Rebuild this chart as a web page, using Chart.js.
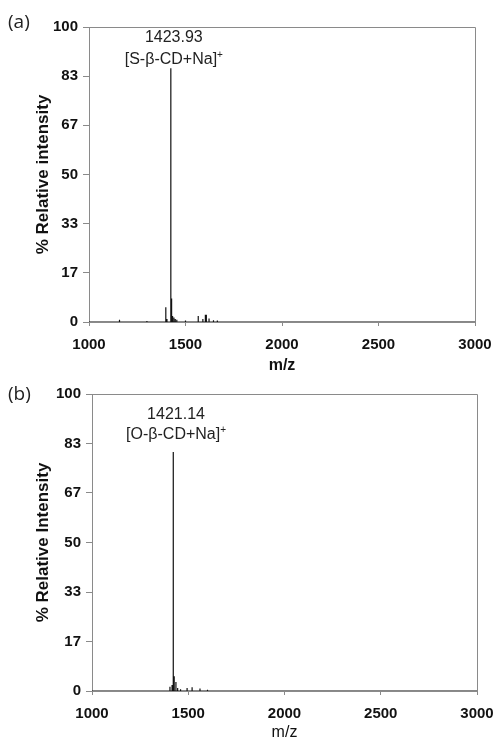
<!DOCTYPE html>
<html>
<head>
<meta charset="utf-8">
<script src="https://cdn.jsdelivr.net/npm/chart.js@4.4.1/dist/chart.umd.min.js"></script>
<style>
  body { margin: 0; background: #fff; width: 496px; height: 742px; position: relative; overflow: hidden; font-family: "Liberation Sans", Arial, sans-serif; }
  .wrap { position: absolute; left: 0; width: 496px; }
  .panel { position: absolute; left: 8px; font-size: 19px; color: #222; font-family: "Open Sans", "Liberation Sans", sans-serif; }
</style>
</head>
<body>
<div class="wrap" style="top:0;height:375px"><canvas id="chartA" width="496" height="375"></canvas></div>
<div class="wrap" style="top:372px;height:370px"><canvas id="chartB" width="496" height="370"></canvas></div>
<div class="panel" style="top:8px">(a)</div>
<div class="panel" style="top:380px">(b)</div>
<script>
// peak lists (m/z, % relative intensity)
var mzA = [1158, 1300, 1398, 1404, 1424, 1428, 1433, 1440, 1447, 1455, 1500, 1566, 1590, 1603, 1608, 1622, 1645, 1665];
var intA = [0.8, 0.3, 5, 1, 86, 8, 2, 1.5, 1, 0.8, 0.5, 2, 1, 2.5, 2.5, 1.2, 0.6, 0.5];
var mzB = [1405, 1416, 1421, 1423, 1427, 1436, 1445, 1460, 1494, 1520, 1561, 1600];
var intB = [1.4, 2, 80.5, 30, 5, 3, 1, 0.6, 1, 1.3, 0.8, 0.4];
var peakLabelA = ["1423.93", "[S-β-CD+Na]", "+"];
var peakLabelB = ["1421.14", "[O-β-CD+Na]", "+"];
var yTicks = [0, 17, 33, 50, 67, 83, 100];

function sticks(mz, inten) {
    var pts = [{x: 1000, y: 0}];
    for (var i = 0; i < mz.length; i++) {
        pts.push({x: mz[i], y: 0});
        pts.push({x: mz[i], y: inten[i]});
        pts.push({x: mz[i], y: 0});
    }
    pts.push({x: 3000, y: 0});
    return pts;
}

var grey = "#8a8a8a";

// box around the plot area + peak annotation
var frame = {
    id: "frame",
    afterDatasetsDraw: function (chart, args, opts) {
        var a = chart.chartArea, ctx = chart.ctx;
        ctx.save();
        ctx.strokeStyle = grey;
        ctx.lineWidth = 1;
        ctx.beginPath();
        ctx.moveTo(a.left, a.top + 0.5);
        ctx.lineTo(a.right + 0.5, a.top + 0.5);
        ctx.lineTo(a.right + 0.5, a.bottom);
        ctx.stroke();
        var x = chart.scales.x.getPixelForValue(opts.mz) + 3;
        ctx.fillStyle = "#222";
        ctx.font = "16px 'Liberation Sans', Arial, sans-serif";
        ctx.textAlign = "center";
        ctx.textBaseline = "middle";
        ctx.fillText(opts.text[0], x, opts.y1);
        var w1 = ctx.measureText(opts.text[1]).width;
        ctx.font = "10px 'Liberation Sans', Arial, sans-serif";
        var w2 = ctx.measureText(opts.text[2]).width;
        ctx.textAlign = "left";
        ctx.font = "16px 'Liberation Sans', Arial, sans-serif";
        var sx = x - (w1 + w2) / 2;
        ctx.fillText(opts.text[1], sx, opts.y2);
        ctx.font = "10px 'Liberation Sans', Arial, sans-serif";
        ctx.fillText(opts.text[2], sx + w1, opts.y2 - 5);
        ctx.restore();
    }
};

function makeChart(id, mz, inten, o) {
    return new Chart(document.getElementById(id), {
        type: "scatter",
        data: {
            datasets: [{
                data: sticks(mz, inten),
                showLine: true,
                borderColor: "#111",
                borderWidth: 1.2,
                pointRadius: 0,
                tension: 0
            }]
        },
        options: {
            responsive: false,
            animation: false,
            layout: { padding: { top: o.top, right: o.right, left: 0, bottom: 0 } },
            plugins: {
                legend: { display: false },
                tooltip: { enabled: false },
                frame: { mz: o.peak, text: o.text, y1: o.y1, y2: o.y2 }
            },
            scales: {
                x: {
                    type: "linear",
                    min: 1000,
                    max: 3000,
                    afterFit: function (s) { s.height = o.xh; s.paddingLeft = 0; s.paddingRight = 0; },
                    ticks: {
                        stepSize: 500, color: "#111", padding: 10, maxRotation: 0,
                        font: { family: "'Liberation Sans', Arial", size: 15, weight: "bold" },
                        callback: function (v) { return String(v); }
                    },
                    grid: { drawOnChartArea: false, tickLength: 4, color: grey },
                    border: { color: grey, width: 1 },
                    title: { display: true, text: "m/z", color: "#111", padding: { top: 0, bottom: 0 }, font: { family: "'Liberation Sans', Arial", size: 16, weight: o.xbold ? "bold" : "normal" } }
                },
                y: {
                    min: 0,
                    max: 100,
                    afterFit: function (s) { s.width = o.yw; s.paddingTop = 0; s.paddingBottom = 0; },
                    afterBuildTicks: function (s) { s.ticks = yTicks.map(function (v) { return {value: v === 17 ? 100 / 6 : v === 33 ? 200 / 6 : v === 67 ? 400 / 6 : v === 83 ? 500 / 6 : v}; }); },
                    ticks: {
                        color: "#111", padding: 5,
                        font: { family: "'Liberation Sans', Arial", size: 15, weight: "bold" },
                        callback: function (v) { return Math.round(v); }
                    },
                    grid: { drawOnChartArea: false, tickLength: 6, color: grey },
                    border: { color: grey, width: 1 },
                    title: { display: true, text: o.ytitle, color: "#111", padding: { top: 33, bottom: 0 }, font: { family: "'Liberation Sans', Arial", size: 17, weight: "bold" } }
                }
            }
        },
        plugins: [frame]
    });
}

makeChart("chartA", mzA, intA, { top: 27, right: 21, xh: 53, yw: 89, peak: 1424, text: peakLabelA, y1: 38, y2: 60, xbold: true, ytitle: "% Relative intensity" });
makeChart("chartB", mzB, intB, { top: 22, right: 19, xh: 51, yw: 92, peak: 1421, text: peakLabelB, y1: 43, y2: 63, xbold: false, ytitle: "% Relative Intensity" });
</script>
</body>
</html>
